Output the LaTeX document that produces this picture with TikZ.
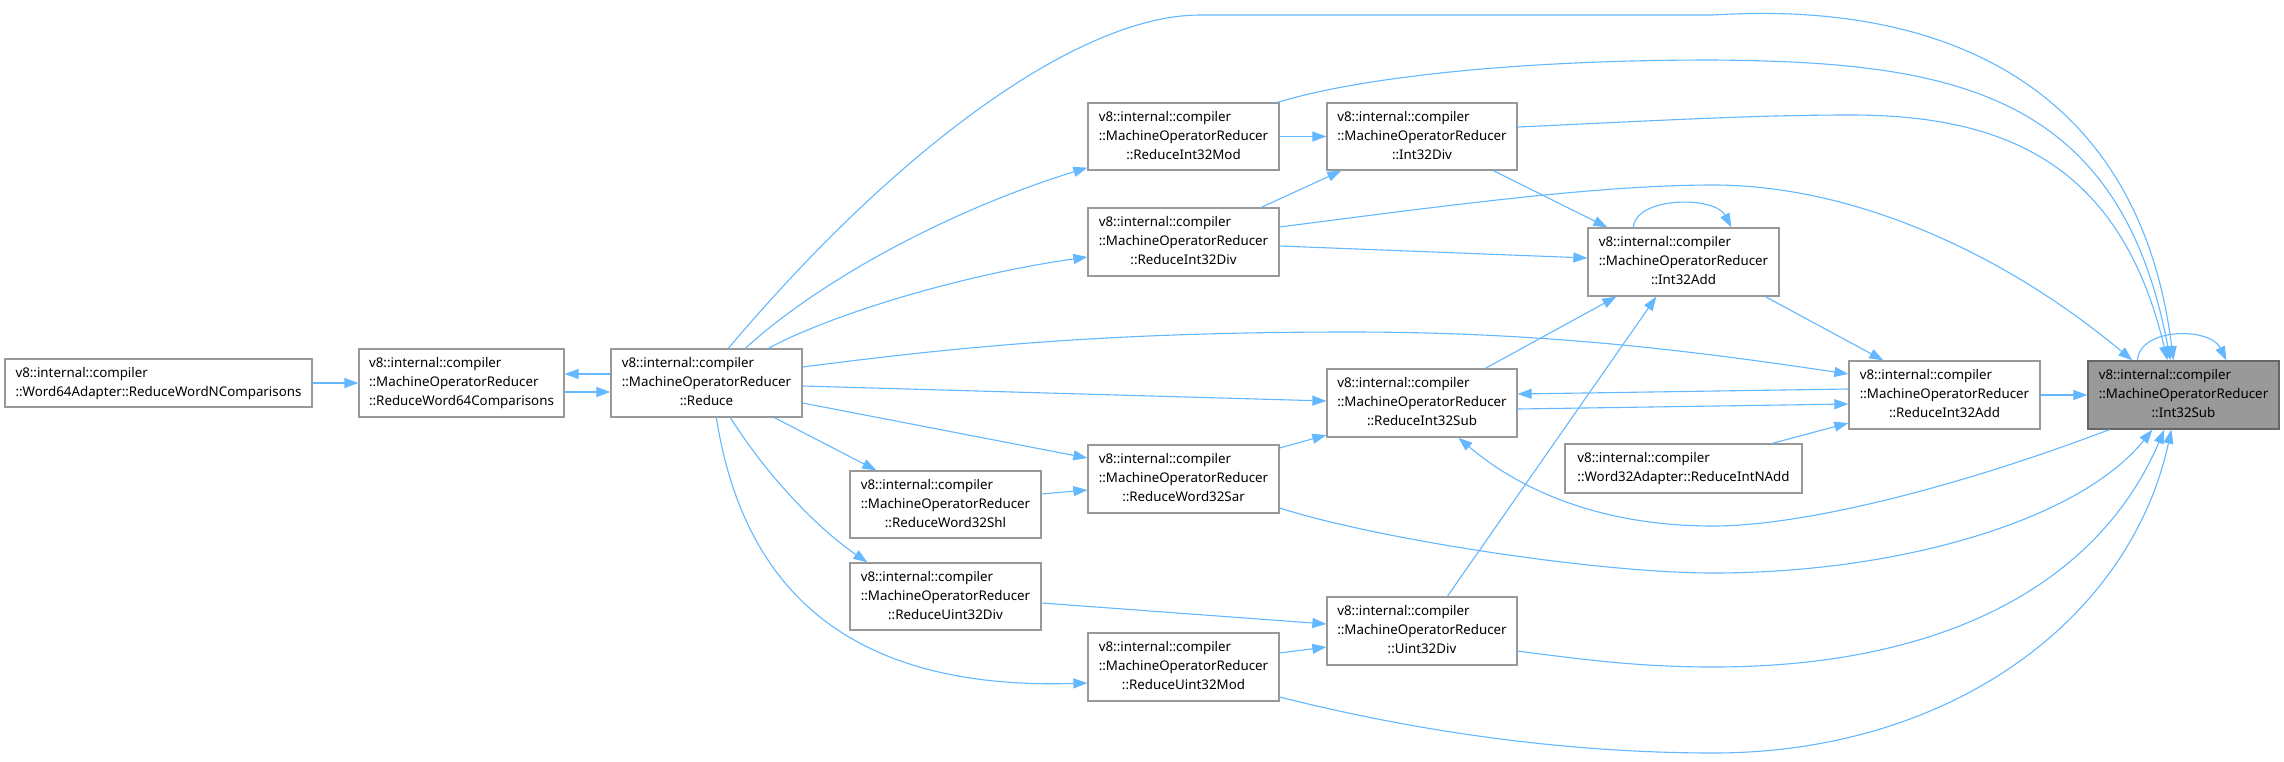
\documentclass[tikz,border=0pt]{standalone}
\usepackage{fontspec}
\setmainfont{Noto Sans}
\usetikzlibrary{arrows.meta,calc}
\definecolor{edgeblue}{HTML}{63B8FF}
\definecolor{nodeborder}{HTML}{999999}
\definecolor{focusfill}{HTML}{999999}
\definecolor{focusborder}{HTML}{666666}
\newcommand{\morthree}[1]{\begin{tabular}{@{}l@{}}v8::internal::compiler\\::MachineOperatorReducer\\\multicolumn{1}{@{}c@{}}{::#1}\end{tabular}}
\newcommand{\vtwoline}[1]{\begin{tabular}{@{}l@{}}v8::internal::compiler\\#1\end{tabular}}
\tikzset{
  fnbox/.style={draw=nodeborder, line width=1.3pt, fill=white, inner sep=0pt,
    minimum width=191pt, minimum height=68pt, text=black,
    font=\fontsize{13.33}{19}\selectfont},
  focusbox/.style={fnbox, fill=focusfill, draw=focusborder},
  edge/.style={draw=edgeblue, line width=1.1pt, -{Triangle[length=14pt,width=10pt]}}
}
\begin{document}
\begin{tikzpicture}[x=1pt,y=-1pt]
\fill[white] (0,0) rectangle (2284,761);
\useasboundingbox (0,0) rectangle (2284,761);

\node[fnbox, minimum width=307pt, minimum height=48pt] (w64) at (158.5,383) {\vtwoline{::Word64Adapter::ReduceWordNComparisons}};
\node[fnbox, minimum width=205pt] (rw64) at (461.5,383) {\morthree{ReduceWord64Comparisons}};
\node[fnbox] (reduce) at (706.5,383) {\morthree{Reduce}};
\node[fnbox, minimum height=67pt] (ri32mod) at (1183.5,136.5) {\morthree{ReduceInt32Mod}};
\node[fnbox] (ri32div) at (1183.5,242) {\morthree{ReduceInt32Div}};
\node[fnbox, minimum width=190pt, minimum height=67pt] (i32div) at (1422,136.5) {\morthree{Int32Div}};
\node[fnbox] (i32add) at (1683.5,262) {\morthree{Int32Add}};
\node[fnbox] (ri32add) at (1944.5,395) {\morthree{ReduceInt32Add}};
\node[focusbox] (i32sub) at (2183.5,395) {\morthree{Int32Sub}};
\node[fnbox, minimum width=237pt, minimum height=49pt] (rintnadd) at (1683.5,468.5) {\vtwoline{::Word32Adapter::ReduceIntNAdd}};
\node[fnbox, minimum width=190pt] (ri32sub) at (1422,403) {\morthree{ReduceInt32Sub}};
\node[fnbox] (rw32sar) at (1183.5,479) {\morthree{ReduceWord32Sar}};
\node[fnbox, minimum height=67pt] (rw32shl) at (945.5,504.5) {\morthree{ReduceWord32Shl}};
\node[fnbox, minimum height=67pt] (ru32div) at (945.5,596.5) {\morthree{ReduceUint32Div}};
\node[fnbox] (ru32mod) at (1183.5,667) {\morthree{ReduceUint32Mod}};
\node[fnbox, minimum width=190pt] (u32div) at (1422,631) {\morthree{Uint32Div}};

% left part
\draw[edge] (w64.east) -- (rw64.west);
\draw[edge] ($(rw64.east)+(0,9)$) -- ($(reduce.west)+(0,9)$);
\draw[edge] ($(reduce.west)+(0,-9)$) -- ($(rw64.east)+(0,-9)$);

% from Reduce
\draw[edge] ($(reduce.north west)+(118,0)$) .. controls (899,146) and (1080,15) .. (1200,15) -- (1713,15) .. controls (1950,0) and (2140,90) .. ($(i32sub.north west)+(86,0)$);
\draw[edge] ($(reduce.north west)+(135,0)$) .. controls (820,280) and (950,210) .. ($(ri32mod.south west)+(0,-3)$);
\draw[edge] ($(reduce.north west)+(158,0)$) .. controls (830,315) and (960,275) .. ($(ri32div.west)+(0,15)$);
\draw[edge] ($(reduce.east)+(0,-16)$) .. controls (950,348) and (1100,332) .. (1350,332) .. controls (1550,332) and (1700,352) .. ($(ri32add.west)+(0,-21)$);
\draw[edge] ($(reduce.east)+(0,3)$) -- ($(ri32sub.west)+(0,-2)$);
\draw[edge] ($(reduce.east)+(0,20)$) -- ($(rw32sar.west)+(0,-21)$);
\draw[edge] ($(reduce.south west)+(164,0)$) -- ($(rw32shl.north west)+(27,0)$);
\draw[edge] ($(reduce.south west)+(120,0)$) .. controls (770,480) and (820,530) .. ($(ru32div.north west)+(18,0)$);
\draw[edge] ($(reduce.south west)+(106,0)$) .. controls (745,600) and (860,690) .. ($(ru32mod.west)+(0,16)$);

% to Int32Sub from the top
\draw[edge] ($(ri32mod.north east)+(-2,0)$) .. controls (1350,80) and (1500,60) .. (1713,60) .. controls (1950,62) and (2120,90) .. ($(i32sub.north west)+(83,0)$);
\draw[edge] ($(i32div.east)+(0,-9.5)$) .. controls (1650,121) and (1750,115) .. (1850,115) .. controls (2000,115) and (2120,160) .. ($(i32sub.north west)+(80,0)$);
\draw[edge] ($(ri32div.east)+(0,-15)$) .. controls (1450,205) and (1600,185) .. (1713,185) .. controls (1850,185) and (2000,250) .. ($(i32sub.north west)+(45,0)$);

% to Int32Sub from below
\draw[edge] ($(rw32sar.east)+(0,29)$) .. controls (1380,540) and (1600,573) .. (1713,573) .. controls (1900,573) and (2080,520) .. ($(i32sub.south west)+(65,0)$);
\draw[edge] ($(u32div.east)+(0,20)$) .. controls (1600,662) and (1650,667) .. (1713,667) .. controls (1950,667) and (2100,580) .. ($(i32sub.south west)+(77,0)$);
\draw[edge] ($(ru32mod.east)+(0,30)$) .. controls (1450,740) and (1600,753) .. (1713,753) .. controls (1950,753) and (2130,620) .. ($(i32sub.south west)+(84,0)$);
\draw[edge] ($(i32sub.south west)+(22,0)$) .. controls (1950,490) and (1800,526) .. (1713,526) .. controls (1600,526) and (1520,490) .. ($(ri32sub.south west)+(132,0)$);

% middle
\draw[edge] ($(rw32shl.east)+(0,-10.5)$) -- ($(rw32sar.west)+(0,11)$);
\draw[edge] ($(rw32sar.east)+(0,-31)$) -- ($(ri32sub.west)+(0,32)$);
\draw[edge] ($(ri32add.west)+(0,-6)$) -- ($(ri32sub.east)+(0,-9)$);
\draw[edge] ($(ri32sub.east)+(0,6)$) -- ($(ri32add.west)+(0,9)$);
\draw[edge] ($(rintnadd.north west)+(208,0)$) -- ($(ri32add.west)+(0,28)$);
\draw[edge] (ri32add.east) -- (i32sub.west);
\draw[edge] ($(i32add.south west)+(178,0)$) -- ($(ri32add.north west)+(35,0)$);
\draw[edge] ($(i32div.south west)+(167,0)$) -- ($(i32add.north west)+(20,0)$);
\draw[edge] ($(ri32div.east)+(0,4)$) -- ($(i32add.west)+(0,-4)$);
\draw[edge] ($(ri32sub.north west)+(159,0)$) -- ($(i32add.south west)+(29,0)$);
\draw[edge] ($(u32div.north west)+(121,0)$) -- ($(i32add.south west)+(69,0)$);
\draw[edge] (ri32mod.east) -- (i32div.west);
\draw[edge] ($(ri32div.north west)+(174,0)$) -- ($(i32div.south west)+(15,0)$);
\draw[edge] ($(ru32div.east)+(0,6.5)$) -- ($(u32div.west)+(0,-7)$);
\draw[edge] ($(ru32mod.east)+(0,-14)$) -- ($(u32div.west)+(0,16)$);

% self loops
\draw[edge] ($(i32add.north west)+(46,0)$) .. controls (1636,196) and (1715,196) .. ($(i32add.north west)+(144,0)$);
\draw[edge] ($(i32sub.north west)+(50,0)$) .. controls (2140,327) and (2210,327) .. ($(i32sub.north west)+(139,0)$);
\end{tikzpicture}
\end{document}
